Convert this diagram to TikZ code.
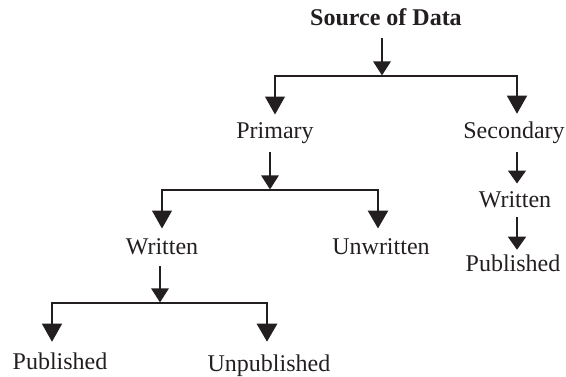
\documentclass[tikz,border=0pt]{standalone}
\usepackage{fontspec}
\setmainfont{Liberation Serif}
\usetikzlibrary{arrows.meta}
\definecolor{ink}{HTML}{231F20}
\begin{document}
\begin{tikzpicture}[x=1pt,y=-1pt,
  lbl/.style={inner sep=0pt,outer sep=0pt,anchor=base,font=\fontsize{24}{28}\selectfont,text=ink},
  feed/.style={draw=ink,line width=2.7pt,-{Triangle[width=17pt,length=14pt]}},
  bar/.style={draw=ink,line width=2.6pt,line cap=rect},
  thinbr/.style={draw=ink,line width=1.2pt,-{Triangle[width=20pt,length=18pt]}},
  thickbr/.style={draw=ink,line width=2.9pt,-{Triangle[width=20pt,length=18pt]}},
  chain/.style={draw=ink,line width=1.6pt,-{Triangle[width=18pt,length=13pt]}}]
\useasboundingbox (0,0) rectangle (566,377);
% text nodes
\node[lbl,font=\fontsize{24}{28}\selectfont\bfseries] (src) at (386,26) {Source of Data};
\node[lbl] (prim) at (275,139) {Primary};
\node[lbl] (sec) at (514,139) {Secondary};
\node[lbl] (wr) at (162,255) {Written};
\node[lbl] (unwr) at (381,255) {Unwritten};
\node[lbl] (wr2) at (515,208) {Written};
\node[lbl] (pub2) at (513,272) {Published};
\node[lbl] (pub) at (60,370) {Published};
\node[lbl] (unpub) at (269,372) {Unpublished};
% junction coordinates
\coordinate (j1) at (382,76);
\coordinate (b1l) at (275,76);
\coordinate (b1r) at (517,76);
\coordinate (j2) at (270,190);
\coordinate (b2l) at (162,190);
\coordinate (b2r) at (378,190);
\coordinate (j3) at (160,303);
\coordinate (b3l) at (52,303);
\coordinate (b3r) at (267,303);
% level 1
\draw[feed,shorten <=12pt,shorten >=0.5pt] (j1 |- src.south) -- (j1);
\draw[bar] (b1l) -- (b1r);
\draw[thinbr,shorten >=8.6pt] (b1l) -- (b1l |- prim.north);
\draw[thinbr,shorten >=8.6pt] (b1r) -- (b1r |- sec.north);
% level 2 (primary)
\draw[feed,shorten <=8pt,shorten >=0.5pt] (j2 |- prim.south) -- (j2);
\draw[bar] (b2l) -- (b2r);
\draw[thinbr,shorten >=10.6pt] (b2l) -- (b2l |- wr.north);
\draw[thickbr,shorten >=10.6pt] (b2r) -- (b2r |- unwr.north);
% level 3 (written)
\draw[feed,shorten <=11pt,shorten >=0.5pt] (j3 |- wr.south) -- (j3);
\draw[bar] (b3l) -- (b3r);
\draw[thinbr,shorten >=11.6pt] (b3l) -- (b3l |- pub.north);
\draw[thickbr,shorten >=13.6pt] (b3r) -- (b3r |- unpub.north);
% secondary chain
\draw[chain,shorten <=8pt,shorten >=8.6pt] (b1r |- sec.south) -- (b1r |- wr2.north);
\draw[chain,shorten <=9pt,shorten >=5.6pt] (b1r |- wr2.south) -- (b1r |- pub2.north);
\end{tikzpicture}
\end{document}
